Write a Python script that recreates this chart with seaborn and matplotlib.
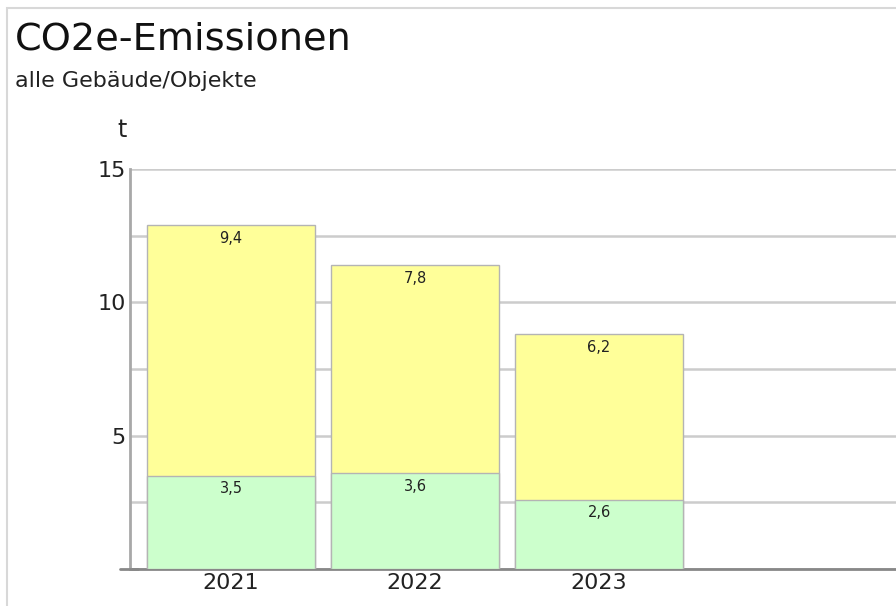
import matplotlib
matplotlib.use("Agg")
import matplotlib.pyplot as plt
import seaborn as sns
import pandas as pd
from matplotlib.patches import Rectangle
from matplotlib.ticker import MultipleLocator

# data
years = ["2021", "2022", "2023"]
green_vals = [3.5, 3.6, 2.6]
yellow_vals = [9.4, 7.8, 6.2]

df = pd.DataFrame({"year": years, "green": green_vals, "yellow": yellow_vals})
df["total"] = df["green"] + df["yellow"]

sns.set_style("white")
plt.rcParams["font.family"] = ["DejaVu Sans"]

fig = plt.figure(figsize=(8.96, 6.06), dpi=100)
ax = fig.add_axes([130 / 896, 37 / 606, 766 / 896, 400 / 606])

# stacked bars: total in yellow, green drawn on top
sns.barplot(data=df, x="year", y="total", color="#FFFF99", saturation=1,
            width=0.913, edgecolor="#B4B4B4", linewidth=1, ax=ax, zorder=3)
sns.barplot(data=df, x="year", y="green", color="#CCFFCC", saturation=1,
            width=0.913, edgecolor="#B4B4B4", linewidth=1, ax=ax, zorder=4)

fmt = lambda v: f"{v:.1f}".replace(".", ",")
for i, row in df.iterrows():
    ax.annotate(fmt(row["yellow"]), (i, row["total"]), xytext=(0, -4),
                textcoords="offset points", ha="center", va="top",
                fontsize=10.5, color="#222222", zorder=5)
    ax.annotate(fmt(row["green"]), (i, row["green"]), xytext=(0, -4),
                textcoords="offset points", ha="center", va="top",
                fontsize=10.5, color="#222222", zorder=5)

ax.set_xlim(-0.549, 3.614)
ax.set_ylim(0, 15)
ax.yaxis.set_major_locator(MultipleLocator(5))
ax.yaxis.set_minor_locator(MultipleLocator(2.5))
ax.grid(axis="y", which="both", color="#CCCCCC", linewidth=1.8, zorder=0)
ax.set_yticks([5, 10, 15])
ax.tick_params(axis="both", length=0, labelsize=16, colors="#222222", pad=3)
ax.set_xlabel("")
ax.set_ylabel("")

for s in ["top", "right"]:
    ax.spines[s].set_visible(False)
ax.spines["left"].set_color("#A8A8A8")
ax.spines["left"].set_linewidth(2)
ax.spines["bottom"].set_color("#888888")
ax.spines["bottom"].set_linewidth(2)
ax.axhline(0, xmin=-0.013, xmax=0.01, color="#888888", linewidth=2, clip_on=False)

fig.text(122 / 896, 1 - 130 / 606, "t", fontsize=17, ha="center", va="center", color="#222222")
fig.text(15 / 896, 1 - 50 / 606, "CO2e-Emissionen", fontsize=27.5, ha="left", va="baseline", color="#111111")
fig.text(15 / 896, 1 - 87 / 606, "alle Gebäude/Objekte", fontsize=16, ha="left", va="baseline", color="#222222")

# outer frame
fig.patches.append(Rectangle((7 / 896, -0.1), 1.2, 1 - 8 / 606 + 0.1, transform=fig.transFigure,
                             fill=False, edgecolor="#D8D8D8", linewidth=1.5))

fig.savefig("out.png", dpi=100)
